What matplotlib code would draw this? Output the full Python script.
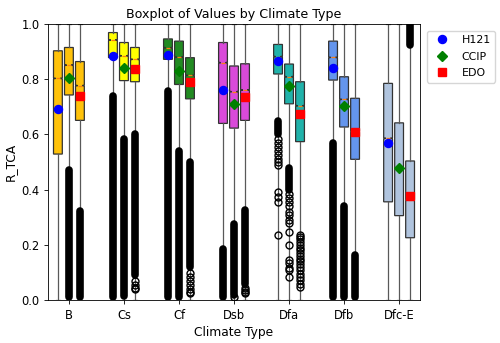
import matplotlib
matplotlib.use("Agg")
import matplotlib.pyplot as plt

# === Data ===
climates = ["B", "Cs", "Cf", "Dsb", "Dfa", "Dfb", "Dfc-E"]
models = ["H121", "CCIP", "EDO"]
colors = ["#FFC20A", "#FFFF00", "#228B22", "#D94AD9", "#20B2AA", "#6495ED", "#B0C4DE"]

h121_q1 = [0.529, 0.878, 0.872, 0.640, 0.819, 0.797, 0.356]
h121_med = [0.803, 0.942, 0.914, 0.860, 0.882, 0.879, 0.586]
h121_q3 = [0.903, 0.969, 0.946, 0.933, 0.926, 0.938, 0.785]
h121_mean = [0.692, 0.884, 0.887, 0.761, 0.866, 0.842, 0.568]

ccip_q1 = [0.743, 0.795, 0.781, 0.623, 0.711, 0.627, 0.306]
ccip_med = [0.851, 0.885, 0.880, 0.755, 0.809, 0.727, 0.475]
ccip_q3 = [0.915, 0.933, 0.938, 0.848, 0.855, 0.809, 0.642]
ccip_mean = [0.805, 0.839, 0.830, 0.710, 0.774, 0.703, 0.477]

edo_q1 = [0.651, 0.791, 0.729, 0.651, 0.574, 0.510, 0.226]
edo_med = [0.777, 0.872, 0.814, 0.761, 0.704, 0.610, 0.362]
edo_q3 = [0.864, 0.915, 0.878, 0.856, 0.791, 0.731, 0.504]
edo_mean = [0.739, 0.836, 0.790, 0.734, 0.673, 0.610, 0.378]

# whiskers run over the full range
whis_lo = 0.0
whis_hi = 1.0

# dense runs of outliers (low, high); None = no dense run
h121_bands = [None, (0.01, 0.739), (0.01, 0.757), (0.01, 0.184), (0.60, 0.648), (0.01, 0.57), None]
ccip_bands = [(0.01, 0.473), (0.015, 0.582), (0.01, 0.54), (0.02, 0.276), (0.40, 0.48), (0.01, 0.34), None]
edo_bands = [(0.01, 0.322), (0.09, 0.60), (0.12, 0.502), (0.06, 0.328), None, (0.01, 0.165), (0.925, 1.0)]

# single outliers
h121_fliers = [[], [], [], [],
               [0.585, 0.57, 0.555, 0.54, 0.525, 0.51, 0.50, 0.49, 0.39, 0.375, 0.356, 0.236],
               [], []]
ccip_fliers = [[], [], [], [0.01],
               [0.385, 0.37, 0.355, 0.34, 0.32, 0.308, 0.29, 0.279, 0.247, 0.2,
                0.145, 0.133, 0.116, 0.109, 0.084],
               [], []]
edo_fliers = [[], [0.07, 0.055, 0.045, 0.04], [0.10, 0.085, 0.07, 0.055, 0.04, 0.03, 0.025],
              [0.045, 0.035, 0.03, 0.025],
              [0.235, 0.228, 0.22, 0.21, 0.20, 0.19, 0.18, 0.17, 0.16, 0.15, 0.14, 0.13,
               0.12, 0.108, 0.096, 0.085, 0.072, 0.06, 0.048],
              [], []]

series = [
    (h121_q1, h121_med, h121_q3, h121_mean, h121_bands, h121_fliers, "o", "blue", 5.8),
    (ccip_q1, ccip_med, ccip_q3, ccip_mean, ccip_bands, ccip_fliers, "D", "green", 5.2),
    (edo_q1, edo_med, edo_q3, edo_mean, edo_bands, edo_fliers, "s", "red", 5.2),
]

offsets = [-0.2, 0.0, 0.2]
box_w = 0.16

# reference looks like a downscaled default figure
s = 0.76
plt.rcParams.update({
    "font.size": 10 * s,
    "axes.titlesize": 9.1,
    "axes.labelsize": 8.8,
    "xtick.labelsize": 8.3,
    "ytick.labelsize": 8.3,
    "legend.fontsize": 7.9,
    "axes.linewidth": 0.8 * s,
    "xtick.major.size": 3.5 * s,
    "ytick.major.size": 3.5 * s,
    "xtick.major.width": 0.8 * s,
    "ytick.major.width": 0.8 * s,
    "axes.titlepad": 6 * s,
    "axes.labelpad": 4 * s,
})

fig = plt.figure(figsize=(5.0, 3.43), dpi=100)
ax = fig.add_axes([0.096, 0.125, 0.744, 0.805])

for k, (q1, med, q3, mean, bands, fliers, mk, mc, ms) in enumerate(series):
    pos = [i + 1 + offsets[k] for i in range(len(climates))]
    stats = []
    for i in range(len(climates)):
        stats.append({
            "q1": q1[i], "med": med[i], "q3": q3[i], "mean": mean[i],
            "whislo": whis_lo, "whishi": whis_hi,
            "cilo": med[i] - 0.002, "cihi": med[i] + 0.002,
            "fliers": fliers[i],
        })
    bp = ax.bxp(stats, positions=pos, widths=box_w, shownotches=True, patch_artist=True,
                manage_ticks=False,
                boxprops=dict(edgecolor="0.2", linewidth=0.9),
                whiskerprops=dict(color="0.35", linewidth=0.9),
                capprops=dict(color="0.35", linewidth=0.9),
                medianprops=dict(color="#ff7f0e", linewidth=0.9),
                flierprops=dict(marker="o", markerfacecolor="none",
                                markeredgecolor="black", markersize=5))
    for patch, c in zip(bp["boxes"], colors):
        patch.set_facecolor(c)

    # dense outlier runs
    for p, b in zip(pos, bands):
        if b is not None:
            ax.plot([p, p], [b[0], b[1]], color="black", linewidth=5.5,
                    solid_capstyle="round", zorder=2.5)

    ax.plot(pos, mean, linestyle="none", marker=mk, color=mc, markersize=ms,
            label=models[k], zorder=4)

ax.set_xticks(range(1, len(climates) + 1))
ax.set_xticklabels(climates)
ax.set_xlim(0.62, 7.38)
ax.set_ylim(0, 1)
ax.set_title("Boxplot of Values by Climate Type")
ax.set_xlabel("Climate Type")
ax.set_ylabel("R_TCA")
ax.legend(loc="upper left", bbox_to_anchor=(1.0, 1.0), borderaxespad=0.6,
          labelspacing=0.6)

fig.savefig("out.png", dpi=100)
